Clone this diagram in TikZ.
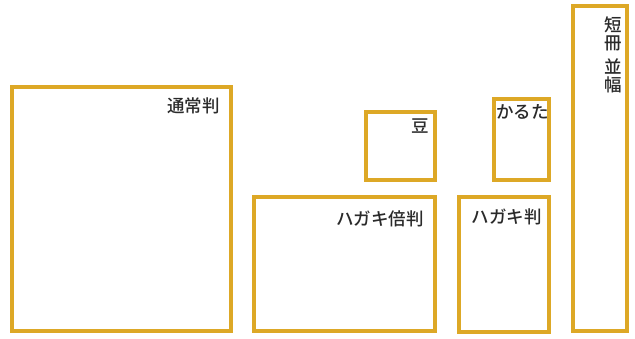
\documentclass[tikz,border=0pt]{standalone}
\usepackage{fontspec}
\newfontfamily\jp{Noto Sans CJK JP Medium}
\definecolor{boxgold}{HTML}{DDA826}
\definecolor{txt}{HTML}{2A2A2A}
\begin{document}
\begin{tikzpicture}[x=1pt,y=-1pt,
  sizebox/.style={draw=boxgold,line width=3.2pt},
  lbl/.style={font=\jp\fontsize{17.5}{18}\selectfont,text=txt,inner sep=0pt}]
\useasboundingbox (0,0) rectangle (635,338);
\draw[sizebox] (12,87) rectangle (231,331);
\coordinate (tsujo) at (231,87);
\draw[sizebox] (366,112) rectangle (435,180);
\coordinate (mame) at (435,112);
\draw[sizebox] (254,197) rectangle (435,331);
\coordinate (baiban) at (435,197);
\draw[sizebox] (494,99) rectangle (549,180);
\coordinate (karuta) at (549,99);
\draw[sizebox] (459,197) rectangle (549,332);
\coordinate (hagaki) at (549,197);
\draw[sizebox] (573,6) rectangle (627,331);
\coordinate (tanzaku) at (627,6);
\node[lbl,anchor=north east] (l1) at ([xshift=-11pt,yshift=-11pt]tsujo) {通常判};
\node[lbl,anchor=north east] (l2) at ([xshift=-6pt,yshift=-7pt]mame) {豆};
\node[lbl,anchor=north east] (l3) at ([xshift=-11pt,yshift=-14pt]baiban) {ハガキ倍判};
\node[lbl,anchor=north east] (l4) at ([xshift=0pt,yshift=-5pt]karuta) {かるた};
\node[lbl,anchor=north east] (l5) at ([xshift=-7pt,yshift=-12pt]hagaki) {ハガキ判};
\node[lbl,anchor=north,align=center,font=\jp\fontsize{17.5}{18}\selectfont] (l6) at (613,17) {短\\冊\\[6pt]並\\幅};
\end{tikzpicture}
\end{document}
